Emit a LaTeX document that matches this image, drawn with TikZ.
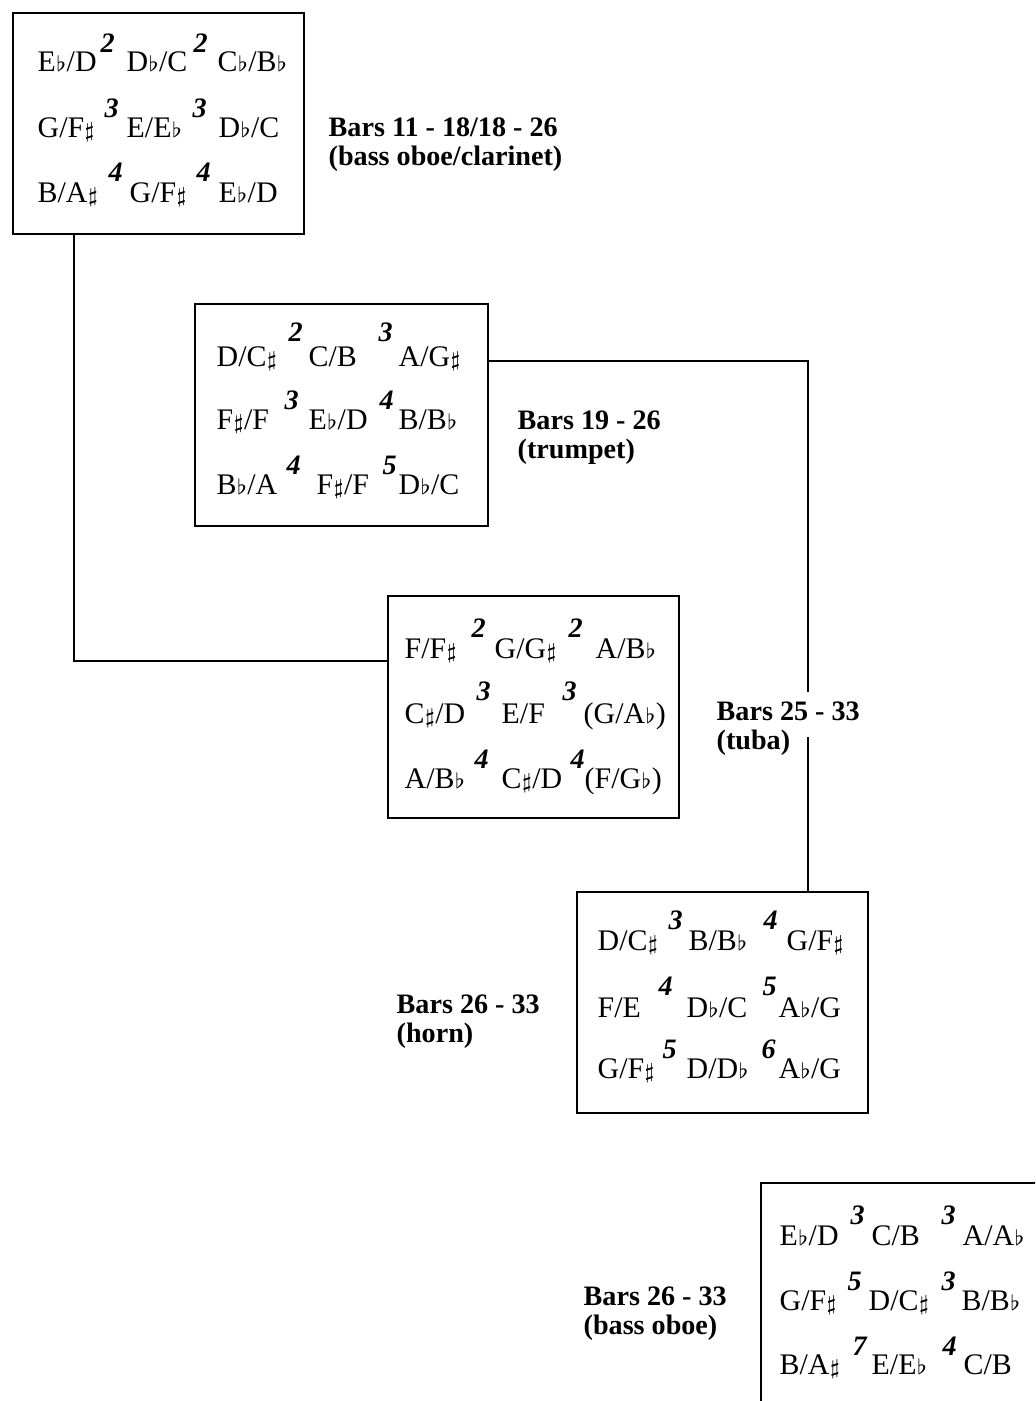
\documentclass[tikz,border=0pt]{standalone}
\usepackage{fontspec}
\setmainfont{Liberation Serif}
\usetikzlibrary{calc,positioning}

\newcommand{\nfl}{\ensuremath{\scriptstyle\flat}}
\newcommand{\nsh}{\ensuremath{\scriptstyle\sharp}}

\tikzset{
  box/.style={draw,line width=0.6pt,inner sep=0pt,anchor=north west},
  note/.style={anchor=base west,inner sep=0pt,font=\fontsize{8.5}{10}\selectfont},
  num/.style={anchor=base west,inner sep=0pt,font=\fontsize{8}{9}\selectfont\bfseries\itshape},
  lbl/.style={anchor=base west,inner sep=0pt,font=\fontsize{8}{9}\selectfont\bfseries},
  link/.style={line width=0.45pt}
}

\begin{document}
\begin{tikzpicture}[x=0.01cm,y=-0.01cm]
  \path[use as bounding box,clip] (0,0) rectangle (1035,1401);

  % boxes
  \node[box,minimum width=2.91cm,minimum height=2.21cm] (bo1) at (12,12) {};
  \node[box,minimum width=2.93cm,minimum height=2.22cm] (bo2) at (194,303) {};
  \node[box,minimum width=2.91cm,minimum height=2.22cm] (bo3) at (387,595) {};
  \node[box,minimum width=2.91cm,minimum height=2.21cm] (bo4) at (576,891) {};
  \node[box,minimum width=3.00cm,minimum height=2.50cm] (bo5) at (760,1182) {};

  % bass oboe/clarinet
  \foreach \x/\y/\t [count=\i] in {37/72/{E\nfl/D},126/72/{D\nfl/C},217/72/{C\nfl/B\nfl},
      37/138/{G/F\nsh},126/138/{E/E\nfl},218/138/{D\nfl/C},
      37/203/{B/A\nsh},129/203/{G/F\nsh},218/203/{E\nfl/D}}
    \node[note] (n1\i) at (\x,\y) {\t};
  \foreach \x/\y/\t [count=\i] in {100/53/2,193/53/2,104/118/3,192/118/3,108/182/4,196/182/4}
    \node[num] (m1\i) at (\x,\y) {\t};

  % trumpet
  \foreach \x/\y/\t [count=\i] in {216/367/{D/C\nsh},308/367/{C/B},398/367/{A/G\nsh},
      216/430/{F\nsh/F},308/430/{E\nfl/D},398/430/{B/B\nfl},
      216/495/{B\nfl/A},316/495/{F\nsh/F},398/495/{D\nfl/C}}
    \node[note] (n2\i) at (\x,\y) {\t};
  \foreach \x/\y/\t [count=\i] in {288/342/2,378/342/3,284/410/3,379/410/4,286/475/4,382/475/5}
    \node[num] (m2\i) at (\x,\y) {\t};

  % tuba
  \foreach \x/\y/\t [count=\i] in {404/658/{F/F\nsh},494/658/{G/G\nsh},595/658/{A/B\nfl},
      404/723/{C\nsh/D},501/723/{E/F},583/723/{(G/A\nfl)},
      404/788/{A/B\nfl},501/788/{C\nsh/D},584/788/{(F/G\nfl)}}
    \node[note] (n3\i) at (\x,\y) {\t};
  \foreach \x/\y/\t [count=\i] in {471/637/2,568/637/2,476/700/3,562/700/3,474/768/4,570/768/4}
    \node[num] (m3\i) at (\x,\y) {\t};

  % horn
  \foreach \x/\y/\t [count=\i] in {597/950/{D/C\nsh},688/950/{B/B\nfl},786/950/{G/F\nsh},
      597/1017/{F/E},686/1017/{D\nfl/C},778/1017/{A\nfl/G},
      597/1078/{G/F\nsh},686/1078/{D/D\nfl},778/1078/{A\nfl/G}}
    \node[note] (n4\i) at (\x,\y) {\t};
  \foreach \x/\y/\t [count=\i] in {668/929/3,763/929/4,658/995/4,762/995/5,662/1058/5,761/1058/6}
    \node[num] (m4\i) at (\x,\y) {\t};

  % bass oboe
  \foreach \x/\y/\t [count=\i] in {779/1245/{E\nfl/D},871/1245/{C/B},962/1245/{A/A\nfl},
      779/1310/{G/F\nsh},868/1310/{D/C\nsh},961/1310/{B/B\nfl},
      779/1374/{B/A\nsh},871/1374/{E/E\nfl},963/1374/{C/B}}
    \node[note] (n5\i) at (\x,\y) {\t};
  \foreach \x/\y/\t [count=\i] in {850/1224/3,941/1224/3,847/1290/5,941/1290/3,852/1355/7,942/1355/4}
    \node[num] (m5\i) at (\x,\y) {\t};

  % labels
  \node[lbl] (l1a) at (328,137) {Bars 11 - 18/18 - 26};
  \node[lbl] (l1b) at (328,166) {(bass oboe/clarinet)};
  \node[lbl] (l2a) at (517,430) {Bars 19 - 26};
  \node[lbl] (l2b) at (517,459) {(trumpet)};
  \node[lbl] (l3a) at (716,720) {Bars 25 - 33};
  \node[lbl] (l3b) at (716,749) {(tuba)};
  \node[lbl] (l4a) at (396,1013) {Bars 26 - 33};
  \node[lbl] (l4b) at (396,1042) {(horn)};
  \node[lbl] (l5a) at (583,1305) {Bars 26 - 33};
  \node[lbl] (l5b) at (583,1334) {(bass oboe)};

  % connectors
  \coordinate (gt) at (808,692);
  \coordinate (gb) at (808,737);
  \draw[link] ($(bo1.south west)+(62,0)$) |- ($(bo3.north west)+(0,66)$);
  \draw[link] ($(bo2.north east)+(0,58)$) -| (gt);
  \draw[link] (gb) -- ($(bo4.north west)+(232,0)$);
\end{tikzpicture}
\end{document}
